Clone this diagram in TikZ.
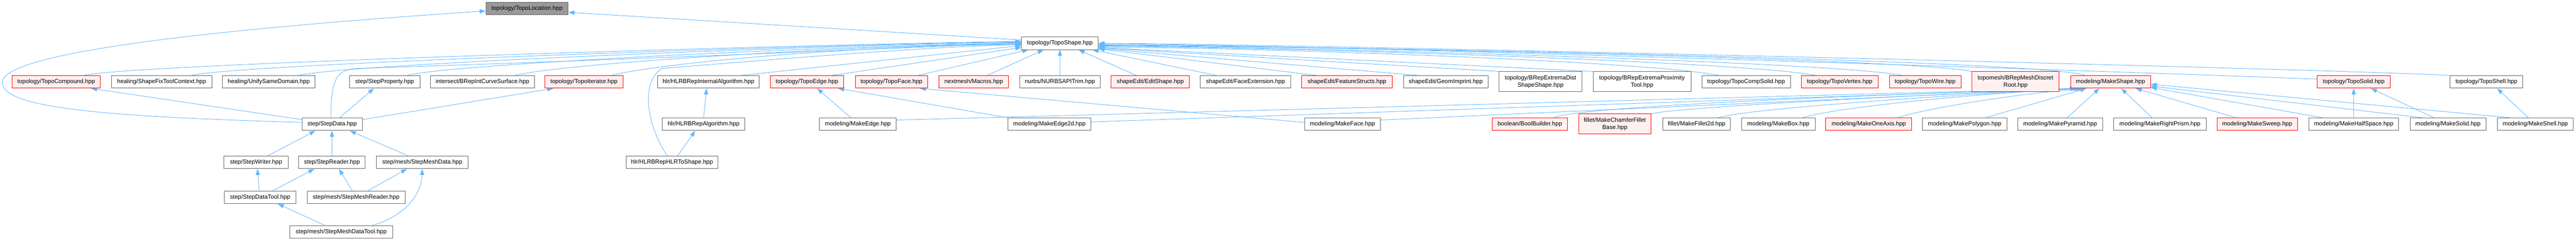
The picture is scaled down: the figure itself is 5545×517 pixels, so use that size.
\documentclass[tikz,border=0pt]{standalone}
\usepackage{fontspec}
\setmainfont{Liberation Sans}
\usetikzlibrary{arrows.meta,backgrounds}
\definecolor{edgec}{HTML}{63B8FF}
\definecolor{grayb}{HTML}{666666}
\definecolor{redfill}{HTML}{FFF0F0}
\definecolor{curfill}{HTML}{999999}
\begin{document}
\begin{tikzpicture}[x=1pt,y=1pt,
  nbox/.style={draw=grayb, fill=white, line width=1pt, inner sep=0pt, minimum height=27pt, align=center, font=\fontsize{12.8}{15.3}\selectfont},
  rbox/.style={nbox, draw=red, fill=redfill},
  cbox/.style={nbox, fill=curfill},
  tall/.style={minimum height=43pt},
  dep/.style={draw=edgec, line width=1pt, -{Triangle[length=13pt,width=9pt]}}]
\useasboundingbox (0,0) rectangle (5545,-517);
% row 0 and 1
\node[cbox, minimum width=177pt] (loc) at (1134.5,-18.5) {topology/TopoLocation.hpp};
\node[nbox, minimum width=165pt] (shape) at (2281.5,-93) {topology/TopoShape.hpp};
% row 2
\node[rbox, minimum width=190pt] (tcomp) at (121,-176) {topology/TopoCompound.hpp};
\node[nbox, minimum width=216pt] (sfix) at (348,-176) {healing/ShapeFixToolContext.hpp};
\node[nbox, minimum width=199pt] (unify) at (578.5,-176) {healing/UnifySameDomain.hpp};
\node[nbox, minimum width=152pt] (sprop) at (828,-176) {step/StepProperty.hpp};
\node[nbox, minimum width=223pt] (bric) at (1038.5,-176) {intersect/BRepIntCurveSurface.hpp};
\node[rbox, minimum width=168pt] (titer) at (1257,-176) {topology/TopoIterator.hpp};
\node[nbox, minimum width=218pt] (hlrint) at (1525,-176) {hlr/HLRBRepInternalAlgorithm.hpp};
\node[rbox, minimum width=158pt] (tedge) at (1737,-176) {topology/TopoEdge.hpp};
\node[rbox, minimum width=156pt] (tface) at (1919,-176) {topology/TopoFace.hpp};
\node[rbox, minimum width=150pt] (macros) at (2096,-176) {nextmesh/Macros.hpp};
\node[nbox, minimum width=173pt] (nurbs) at (2281.5,-176) {nurbs/NURBSAPITrim.hpp};
\node[rbox, minimum width=168pt] (edit) at (2476,-176) {shapeEdit/EditShape.hpp};
\node[nbox, minimum width=196pt] (faceext) at (2681,-176) {shapeEdit/FaceExtension.hpp};
\node[rbox, minimum width=195pt] (feat) at (2899.5,-176) {shapeEdit/FeatureStructs.hpp};
\node[nbox, minimum width=182pt] (geomimp) at (3112,-176) {shapeEdit/GeomImprint.hpp};
\node[nbox, tall, minimum width=178pt] (extdist) at (3316,-175.5) {topology/BRepExtremaDist\\ShapeShape.hpp};
\node[nbox, tall, minimum width=211pt] (extprox) at (3534.5,-175.5) {topology/BRepExtremaProximity\\Tool.hpp};
\node[nbox, minimum width=191pt] (compsolid) at (3758.5,-176) {topology/TopoCompSolid.hpp};
\node[rbox, minimum width=166pt] (vertex) at (3960,-176) {topology/TopoVertex.hpp};
\node[rbox, minimum width=154pt] (wire) at (4144,-176) {topology/TopoWire.hpp};
\node[rbox, tall, minimum width=187pt] (discret) at (4338.5,-175.5) {topomesh/BRepMeshDiscret\\Root.hpp};
\node[rbox, minimum width=172pt] (mkshape) at (4543,-176) {modeling/MakeShape.hpp};
\node[rbox, minimum width=157pt] (solid) at (5066.5,-176) {topology/TopoSolid.hpp};
\node[nbox, minimum width=156pt] (shell) at (5352,-176) {topology/TopoShell.hpp};
% row 3
\node[nbox, minimum width=130pt] (sdata) at (715,-267) {step/StepData.hpp};
\node[nbox, minimum width=177pt] (hlralg) at (1514.5,-267) {hlr/HLRBRepAlgorithm.hpp};
\node[nbox, minimum width=165pt] (mkedge) at (1846.5,-267) {modeling/MakeEdge.hpp};
\node[nbox, minimum width=178pt] (mkedge2d) at (2259,-267) {modeling/MakeEdge2d.hpp};
\node[nbox, minimum width=163pt] (mkface) at (2889.5,-267) {modeling/MakeFace.hpp};
\node[rbox, minimum width=162pt] (bool) at (3293,-267) {boolean/BoolBuilder.hpp};
\node[rbox, tall, minimum width=156pt] (chamfer) at (3476,-266.5) {fillet/MakeChamferFillet\\Base.hpp};
\node[nbox, minimum width=146pt] (fillet2d) at (3652,-267) {fillet/MakeFillet2d.hpp};
\node[nbox, minimum width=158pt] (box) at (3828,-267) {modeling/MakeBox.hpp};
\node[rbox, minimum width=185pt] (oneaxis) at (4022.5,-267) {modeling/MakeOneAxis.hpp};
\node[nbox, minimum width=182pt] (polygon) at (4229,-267) {modeling/MakePolygon.hpp};
\node[nbox, minimum width=183pt] (pyramid) at (4434.5,-267) {modeling/MakePyramid.hpp};
\node[nbox, minimum width=199pt] (prism) at (4649.5,-267) {modeling/MakeRightPrism.hpp};
\node[rbox, minimum width=173pt] (sweep) at (4858.5,-267) {modeling/MakeSweep.hpp};
\node[nbox, minimum width=193pt] (halfspace) at (5066.5,-267) {modeling/MakeHalfSpace.hpp};
\node[nbox, minimum width=163pt] (mksolid) at (5269.5,-267) {modeling/MakeSolid.hpp};
\node[nbox, minimum width=163pt] (mkshell) at (5457.5,-267) {modeling/MakeShell.hpp};
% row 4
\node[nbox, minimum width=138pt] (swriter) at (551,-349) {step/StepWriter.hpp};
\node[nbox, minimum width=143pt] (sreader) at (714.5,-349) {step/StepReader.hpp};
\node[nbox, minimum width=198pt] (smeshdata) at (909,-349) {step/mesh/StepMeshData.hpp};
\node[nbox, minimum width=197pt] (hlrtoshape) at (1446.5,-349) {hlr/HLRBRepHLRToShape.hpp};
% row 5
\node[nbox, minimum width=154pt] (sdtool) at (560,-424) {step/StepDataTool.hpp};
\node[nbox, minimum width=211pt] (smreader) at (766.5,-424) {step/mesh/StepMeshReader.hpp};
% row 6
\node[nbox, minimum width=221pt] (smdtool) at (734.5,-498.5) {step/mesh/StepMeshDataTool.hpp};

\begin{scope}[on background layer]
\fill[white] (0,0) rectangle (5545,-517);
% to TopoLocation
\draw[dep] ([yshift=7pt]shape.west) -- ([yshift=-8pt]loc.east);
\draw[dep] ([yshift=4pt]sdata.west) .. controls (200,-250) and (5,-230) .. (5,-177) .. controls (5,-110) and (500,-60) .. ([yshift=-5pt]loc.west);
% to TopoShape from the left
\draw[dep] ([xshift=60pt]tcomp.north) .. controls +(100,25) and +(-400,-5) .. ([yshift=4pt]shape.west);
\draw[dep] ([xshift=65pt]sfix.north) .. controls +(100,25) and +(-400,-5) .. ([yshift=3pt]shape.west);
\draw[dep] ([xshift=65pt]unify.north) .. controls +(100,25) and +(-400,-5) .. ([yshift=2pt]shape.west);
\draw[dep] ([xshift=-3pt]sdata.north) .. controls (712,-160) and (730,-150) .. (770,-147) .. controls (1300,-130) and (1900,-105) .. ([yshift=1pt]shape.west);
\draw[dep] ([xshift=48pt]sprop.north) .. controls +(100,25) and +(-400,-5) .. (shape.west);
\draw[dep] ([xshift=70pt]bric.north) .. controls +(100,25) and +(-400,-5) .. ([yshift=-1pt]shape.west);
\draw[dep] ([xshift=59pt]titer.north) .. controls +(100,25) and +(-400,-5) .. ([yshift=-2pt]shape.west);
\draw[dep] ([xshift=-10pt]hlrtoshape.north) .. controls (1392,-270) and (1378,-175) .. (1425,-147) .. controls (1700,-125) and (2000,-100) .. ([yshift=-3pt]shape.west);
\draw[dep] ([xshift=71pt]hlrint.north) -- ([yshift=-5pt]shape.west);
\draw[dep] ([xshift=54pt]tedge.north) -- ([yshift=-9pt]shape.west);
\draw[dep] ([xshift=57pt]tface.north) -- ([xshift=-68pt]shape.south);
\draw[dep] ([xshift=29pt]macros.north) -- ([xshift=-35pt]shape.south);
\draw[dep] (nurbs.north) -- (shape.south);
% to TopoShape from the right
\draw[dep] ([xshift=-30pt]edit.north) -- ([xshift=40pt]shape.south);
\draw[dep] ([xshift=-63pt]faceext.north) -- ([xshift=70pt]shape.south);
\draw[dep] ([xshift=-66pt]feat.north) -- ([yshift=-12pt]shape.east);
\draw[dep] ([xshift=-60pt]geomimp.north) -- ([yshift=-11pt]shape.east);
\draw[dep] (extdist.north west) -- ([yshift=-10pt]shape.east);
\draw[dep] (extprox.north west) -- ([yshift=-9pt]shape.east);
\draw[dep] ([xshift=-59pt]compsolid.north) .. controls +(-150,30) and +(400,-3) .. ([yshift=-8pt]shape.east);
\draw[dep] ([xshift=-53pt]vertex.north) .. controls +(-150,30) and +(400,-3) .. ([yshift=-6pt]shape.east);
\draw[dep] ([xshift=-50pt]wire.north) .. controls +(-150,30) and +(400,-3) .. ([yshift=-5pt]shape.east);
\draw[dep] (discret.north west) .. controls +(-150,30) and +(400,-3) .. ([yshift=-4pt]shape.east);
\draw[dep] ([xshift=-55pt]mkshape.north) .. controls +(-100,35) and +(400,-3) .. ([yshift=-3pt]shape.east);
\draw[dep] ([yshift=6pt]solid.west) .. controls +(-300,12) and +(500,-3) .. ([yshift=-1pt]shape.east);
\draw[dep] (shell.north west) .. controls +(-300,15) and +(500,-3) .. (shape.east);
% step group
\draw[dep] ([yshift=10pt]sdata.west) -- ([xshift=75pt]tcomp.south);
\draw[dep] ([xshift=16pt]sdata.north) -- ([xshift=-23pt]sprop.south);
\draw[dep] ([yshift=10pt]sdata.east) -- ([xshift=-66pt]titer.south);
\draw[dep] ([xshift=25pt]swriter.north) -- ([xshift=-36pt]sdata.south);
\draw[dep] (sreader.north) -- (sreader.north |- sdata.south);
\draw[dep] ([xshift=-30pt]smeshdata.north) -- ([xshift=38pt]sdata.south);
\draw[dep] ([xshift=-2pt]sdtool.north) -- ([xshift=3pt]swriter.south);
\draw[dep] ([xshift=27pt]sdtool.north) -- ([xshift=-38pt]sreader.south);
\draw[dep] ([xshift=-8pt]smreader.north) -- ([xshift=15pt]sreader.south);
\draw[dep] ([xshift=25pt]smreader.north) -- ([xshift=-33pt]smeshdata.south);
\draw[dep] ([xshift=-35pt]smdtool.north) -- ([xshift=38pt]sdtool.south);
\draw[dep] ([xshift=66pt]smdtool.north) .. controls (870,-465) and (907,-420) .. (smeshdata.south);
% hlr group
\draw[dep] (hlralg.north) -- ([xshift=-4pt]hlrint.south);
\draw[dep] ([xshift=12pt]hlrtoshape.north) -- ([xshift=-18pt]hlralg.south);
% modeling to topology
\draw[dep] ([xshift=-15pt]mkedge.north) -- ([xshift=22pt]tedge.south);
\draw[dep] (mkedge2d.north west) -- ([xshift=67pt]tedge.south);
\draw[dep] ([yshift=4pt]mkface.west) -- ([xshift=61pt]tface.south);
\draw[dep] (halfspace.north) -- (solid.south);
\draw[dep] ([xshift=-30pt]mksolid.north) -- ([xshift=37pt]solid.south);
\draw[dep] ([xshift=-15pt]mkshell.north) -- ([xshift=23pt]shell.south);
% to MakeShape
\draw[dep] ([yshift=9pt]mkedge.east) -- ([xshift=-75pt]mkshape.south);
\draw[dep] ([yshift=5pt]mkedge2d.east) -- ([xshift=-73pt]mkshape.south);
\draw[dep] ([yshift=9pt]mkface.east) -- ([xshift=-71pt]mkshape.south);
\draw[dep] ([xshift=52pt]bool.north) .. controls +(45,25) and +(-400,-12) .. ([xshift=-68pt]mkshape.south);
\draw[dep] (chamfer.north east) .. controls +(60,15) and +(-300,-12) .. ([xshift=-65pt]mkshape.south);
\draw[dep] ([xshift=47pt]fillet2d.north) .. controls +(60,20) and +(-250,-12) .. ([xshift=-62pt]mkshape.south);
\draw[dep] ([xshift=52pt]box.north) .. controls +(60,20) and +(-250,-12) .. ([xshift=-60pt]mkshape.south);
\draw[dep] ([xshift=62pt]oneaxis.north) .. controls +(60,20) and +(-150,-12) .. ([xshift=-55pt]mkshape.south);
\draw[dep] ([xshift=45pt]polygon.north) -- ([xshift=-52pt]mkshape.south);
\draw[dep] ([xshift=15pt]pyramid.north) -- ([xshift=-24pt]mkshape.south);
\draw[dep] ([xshift=-17pt]prism.north) -- ([xshift=23pt]mkshape.south);
\draw[dep] ([xshift=-45pt]sweep.north) -- ([xshift=54pt]mkshape.south);
\draw[dep] ([xshift=-67pt]halfspace.north) -- ([yshift=2pt]mkshape.south east);
\draw[dep] ([xshift=-55pt]mksolid.north) -- ([yshift=-9pt]mkshape.east);
\draw[dep] ([xshift=-54pt]mkshell.north) -- ([yshift=-5pt]mkshape.east);
\end{scope}
\end{tikzpicture}
\end{document}
